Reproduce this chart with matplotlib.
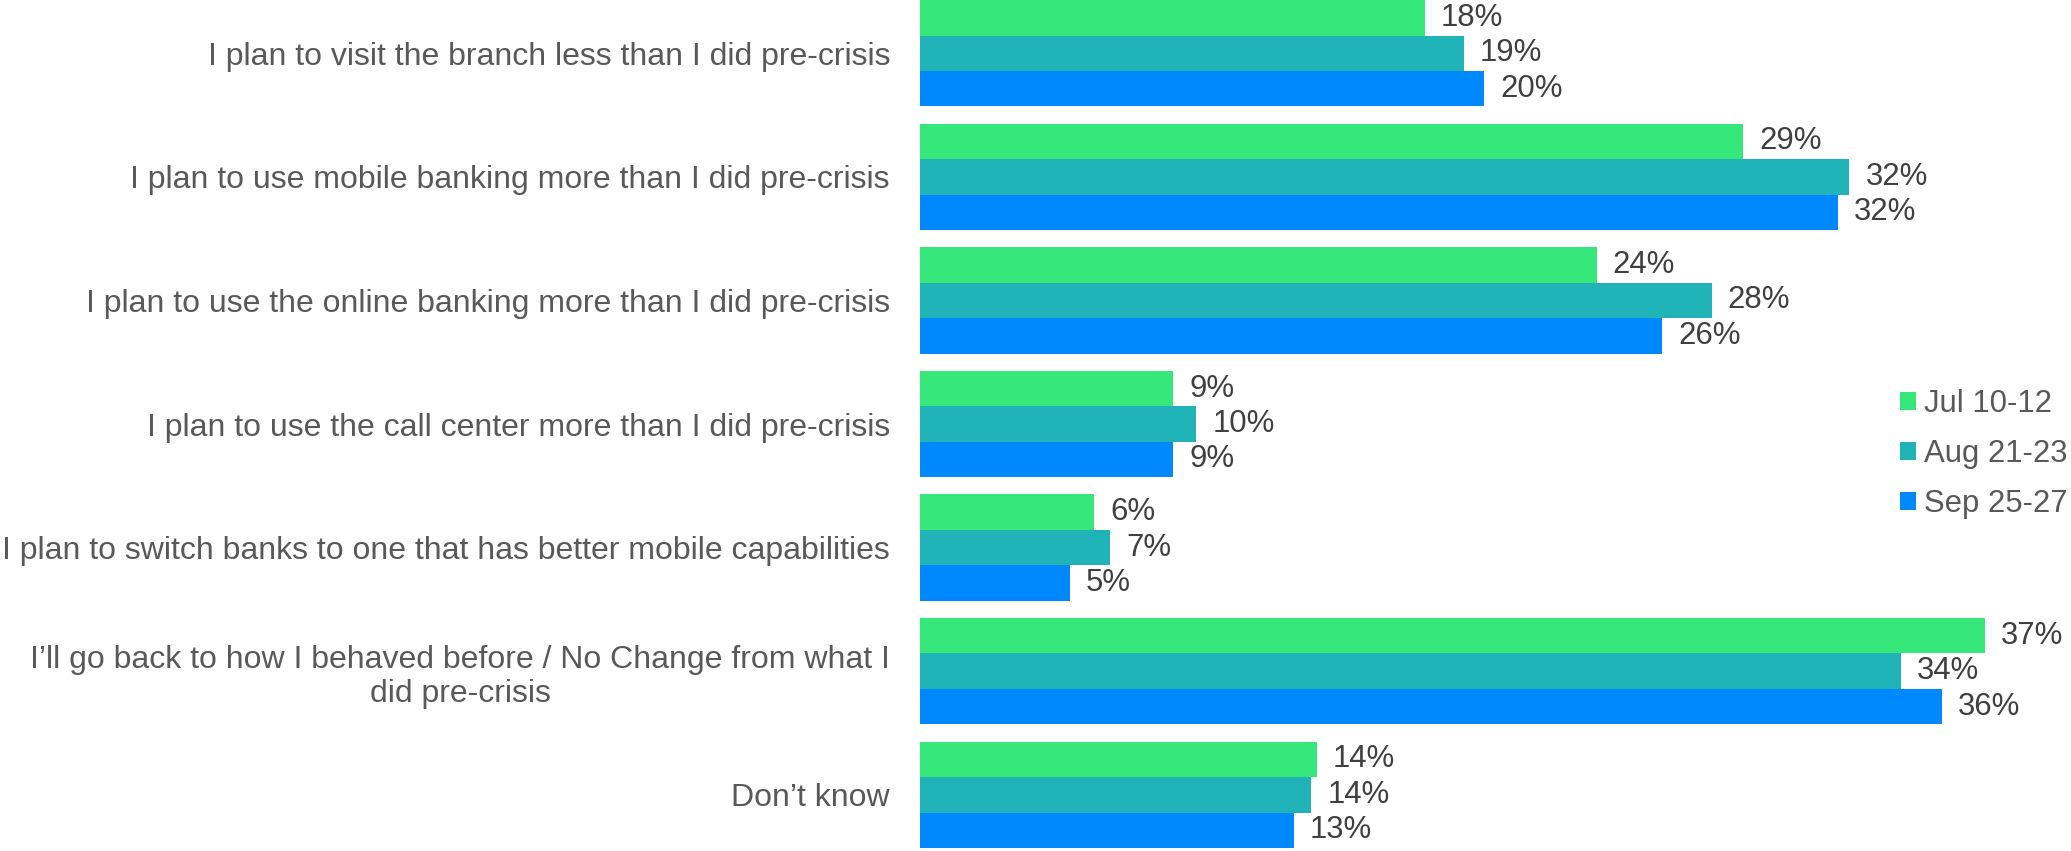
import matplotlib
matplotlib.use("Agg")
import matplotlib.pyplot as plt
import numpy as np

# categories (top to bottom) and the three survey waves
categories = [
    "I plan to visit the branch less than I did pre-crisis",
    "I plan to use mobile banking more than I did pre-crisis",
    "I plan to use the online banking more than I did pre-crisis",
    "I plan to use the call center more than I did pre-crisis",
    "I plan to switch banks to one that has better mobile capabilities",
    "I\u2019ll go back to how I behaved before / No Change from what I\ndid pre-crisis",
    "Don\u2019t know",
]
series_names = ["Jul 10-12", "Aug 21-23", "Sep 25-27"]
jul = [17.55, 28.6, 23.52, 8.8, 6.05, 37.0, 13.8]
aug = [18.9, 32.3, 27.52, 9.6, 6.6, 34.1, 13.6]
sep = [19.6, 31.9, 25.8, 8.8, 5.2, 35.52, 13.0]
colors = ["#35E879", "#20B4B8", "#0088FF"]

plt.rcParams['font.family'] = ['Liberation Sans', 'DejaVu Sans']
fs = 22.4

fig = plt.figure(figsize=(20.71, 8.51), dpi=100)
ax = fig.add_axes([920 / 2071, 0, 1 - 920 / 2071, 1])

h = 0.287
y = np.arange(len(categories))
handles = []
for k, (vals, col) in enumerate(zip([jul, aug, sep], colors)):
    pos = y + (k - 1) * h
    bars = ax.barh(pos, vals, height=h, color=col, edgecolor="none")
    handles.append(bars)
    for yy, v in zip(pos, vals):
        ax.annotate(f"{v:.0f}%", (v, yy), xytext=(11.5, 0), textcoords="offset points",
                    ha="left", va="center", fontsize=fs, color="#404040")

ax.set_xlim(0, 40)
ax.set_ylim(6.455, -0.431)
ax.set_yticks(y)
ax.set_yticklabels(categories, fontsize=23, color="#595959")
for t in ax.get_yticklabels():
    t.set_multialignment("center")
ax.tick_params(axis="y", length=0, pad=21.6)
ax.set_xticks([])
for s in ax.spines.values():
    s.set_visible(False)

fig.legend(handles, series_names, loc="center left",
           bbox_to_anchor=(1900 / 2071, 1 - 454 / 851), frameon=False,
           fontsize=fs, handlelength=0.52, handleheight=0.52, handletextpad=0.26,
           labelspacing=0.64, borderpad=0, borderaxespad=0, labelcolor="#595959")

fig.savefig("out.png", dpi=100)
